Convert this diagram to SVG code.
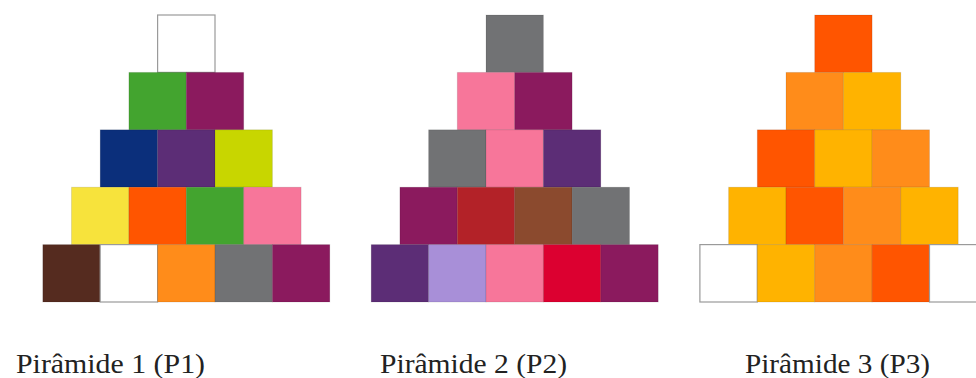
<svg xmlns="http://www.w3.org/2000/svg" width="976" height="378" viewBox="0 0 976 378">
  <style>
    rect { stroke: rgba(0,0,0,0.10); stroke-width: 1; }
    .wht { fill: #ffffff; stroke: #9a9a9a; stroke-width: 1.2; }
    .grn { fill: #43a42f; }
    .mag { fill: #8b1a5e; }
    .nav { fill: #0b2f7b; }
    .pur { fill: #5c2d76; }
    .lim { fill: #c8d600; }
    .yel { fill: #f7e33c; }
    .red { fill: #ff5500; }
    .pnk { fill: #f7769a; }
    .brn { fill: #552b1f; }
    .org { fill: #ff8c1a; }
    .gry { fill: #717274; }
    .crd { fill: #b32228; }
    .rst { fill: #8b4a2e; }
    .lav { fill: #a88fd8; }
    .crm { fill: #dc0030; }
    .amb { fill: #ffb300; }
    .lbl { font-family: "Liberation Serif", "Times New Roman", serif; font-size: 27px; fill: #222; }
  </style>

  <!-- Pyramid 1: centre x 186.3, cell 57.4 -->
  <g id="p1">
    <rect class="wht" x="157.6" y="15" width="57.4" height="57.4"/>

    <rect class="grn" x="128.9" y="72.4" width="57.4" height="57.4"/>
    <rect class="mag" x="186.3" y="72.4" width="57.4" height="57.4"/>

    <rect class="nav" x="100.2" y="129.8" width="57.4" height="57.4"/>
    <rect class="pur" x="157.6" y="129.8" width="57.4" height="57.4"/>
    <rect class="lim" x="215" y="129.8" width="57.4" height="57.4"/>

    <rect class="yel" x="71.5" y="187.2" width="57.4" height="57.4"/>
    <rect class="red" x="128.9" y="187.2" width="57.4" height="57.4"/>
    <rect class="grn" x="186.3" y="187.2" width="57.4" height="57.4"/>
    <rect class="pnk" x="243.7" y="187.2" width="57.4" height="57.4"/>

    <rect class="brn" x="42.8" y="244.6" width="57.4" height="57.4"/>
    <rect class="wht" x="100.2" y="244.6" width="57.4" height="57.4"/>
    <rect class="org" x="157.6" y="244.6" width="57.4" height="57.4"/>
    <rect class="gry" x="215" y="244.6" width="57.4" height="57.4"/>
    <rect class="mag" x="272.4" y="244.6" width="57.4" height="57.4"/>
  </g>

  <!-- Pyramid 2: centre x 514.7 -->
  <g id="p2">
    <rect class="gry" x="486" y="15" width="57.4" height="57.4"/>

    <rect class="pnk" x="457.3" y="72.4" width="57.4" height="57.4"/>
    <rect class="mag" x="514.7" y="72.4" width="57.4" height="57.4"/>

    <rect class="gry" x="428.6" y="129.8" width="57.4" height="57.4"/>
    <rect class="pnk" x="486" y="129.8" width="57.4" height="57.4"/>
    <rect class="pur" x="543.4" y="129.8" width="57.4" height="57.4"/>

    <rect class="mag" x="399.9" y="187.2" width="57.4" height="57.4"/>
    <rect class="crd" x="457.3" y="187.2" width="57.4" height="57.4"/>
    <rect class="rst" x="514.7" y="187.2" width="57.4" height="57.4"/>
    <rect class="gry" x="572.1" y="187.2" width="57.4" height="57.4"/>

    <rect class="pur" x="371.2" y="244.6" width="57.4" height="57.4"/>
    <rect class="lav" x="428.6" y="244.6" width="57.4" height="57.4"/>
    <rect class="pnk" x="486" y="244.6" width="57.4" height="57.4"/>
    <rect class="crm" x="543.4" y="244.6" width="57.4" height="57.4"/>
    <rect class="mag" x="600.8" y="244.6" width="57.4" height="57.4"/>
  </g>

  <!-- Pyramid 3: centre x 843.4 -->
  <g id="p3">
    <rect class="red" x="814.7" y="15" width="57.4" height="57.4"/>

    <rect class="org" x="786" y="72.4" width="57.4" height="57.4"/>
    <rect class="amb" x="843.4" y="72.4" width="57.4" height="57.4"/>

    <rect class="red" x="757.3" y="129.8" width="57.4" height="57.4"/>
    <rect class="amb" x="814.7" y="129.8" width="57.4" height="57.4"/>
    <rect class="org" x="872.1" y="129.8" width="57.4" height="57.4"/>

    <rect class="amb" x="728.6" y="187.2" width="57.4" height="57.4"/>
    <rect class="red" x="786" y="187.2" width="57.4" height="57.4"/>
    <rect class="org" x="843.4" y="187.2" width="57.4" height="57.4"/>
    <rect class="amb" x="900.8" y="187.2" width="57.4" height="57.4"/>

    <rect class="wht" x="699.9" y="244.6" width="57.4" height="57.4"/>
    <rect class="amb" x="757.3" y="244.6" width="57.4" height="57.4"/>
    <rect class="org" x="814.7" y="244.6" width="57.4" height="57.4"/>
    <rect class="red" x="872.1" y="244.6" width="57.4" height="57.4"/>
    <rect class="wht" x="929.5" y="244.6" width="57.4" height="57.4"/>
  </g>

  <!-- Captions -->
  <g id="captions">
    <text class="lbl" x="16" y="373" textLength="189" lengthAdjust="spacingAndGlyphs">Pirâmide 1 (P1)</text>
    <text class="lbl" x="380" y="373" textLength="187" lengthAdjust="spacingAndGlyphs">Pirâmide 2 (P2)</text>
    <text class="lbl" x="745" y="373" textLength="185" lengthAdjust="spacingAndGlyphs">Pirâmide 3 (P3)</text>
  </g>
</svg>
